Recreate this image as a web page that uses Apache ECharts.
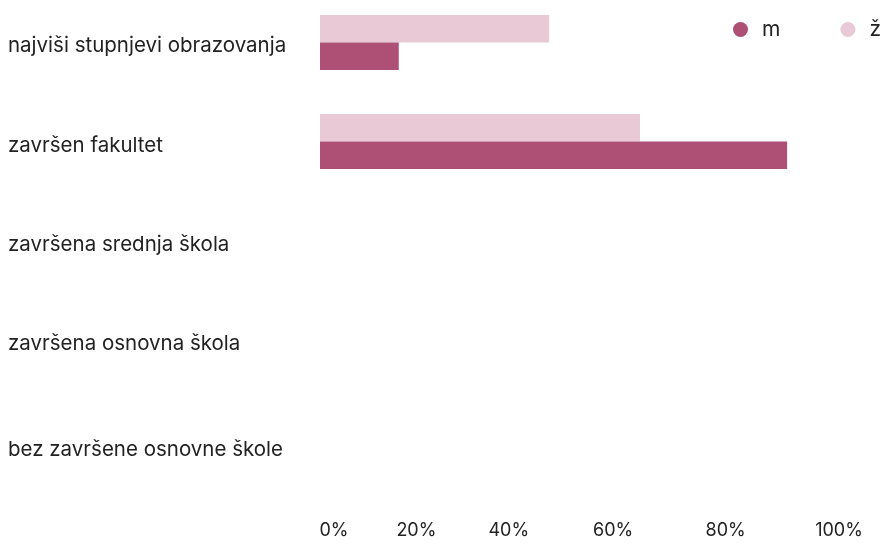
<!DOCTYPE html>
<html>
<head>
<meta charset="utf-8">
<style>
  html, body { margin: 0; padding: 0; background: #fff; }
  #chart { width: 884px; height: 544px; }
</style>
<script src="https://cdn.jsdelivr.net/npm/echarts@6/dist/echarts.min.js"></script>
</head>
<body>
<div id="chart"></div>
<script>
// Education level shares by sex (percent of each group)
const categories = [
  'najviši stupnjevi obrazovanja',
  'završen fakultet',
  'završena srednja škola',
  'završena osnovna škola',
  'bez završene osnovne škole'
];
const seriesNames = ['m', 'ž'];
const valuesM = [14.4, 85.4, 0, 0, 0];
const valuesZ = [41.9, 58.5, 0, 0, 0];
const tickValues = [0, 20, 40, 60, 80, 100];

const colorM = '#ae5076';
const colorZ = '#e8c9d5';
const textColor = '#222222';
const fontFamily = 'Inter, "Noto Sans", sans-serif';

// horizontal nudges for the percentage labels under the plot
const xLabelShift = [14, -13, -30, -35, -32, -28];
const xRich = {};
xLabelShift.forEach((s, i) => {
  xRich['t' + i] = {
    fontSize: 18, fontFamily, color: textColor,
    padding: s >= 0 ? [0, 0, 0, 2 * s] : [0, -2 * s, 0, 0]
  };
});

// vertical nudges for the category labels on the left
const yLabelDrop = [7, 9, 9, 9, 22];
const yRich = {};
yLabelDrop.forEach((d, i) => {
  yRich['c' + i] = {
    fontSize: 20.5, fontFamily, color: textColor,
    padding: [d, 0, 0, 0]
  };
});

const chart = echarts.init(document.getElementById('chart'), null, { renderer: 'canvas' });

chart.setOption({
  animation: false,
  backgroundColor: '#ffffff',
  textStyle: { fontFamily },
  legend: {
    data: seriesNames,
    right: -2,
    top: 14,
    icon: 'circle',
    itemWidth: 15,
    itemHeight: 15,
    itemGap: 60,
    textStyle: { fontSize: 21, color: textColor, fontFamily, padding: [0, 0, 0, 9] }
  },
  grid: { left: 320, right: 17, top: 42.5, bottom: 105.5, containLabel: false },
  xAxis: {
    type: 'value',
    min: 0,
    max: 100,
    interval: 20,
    axisLine: { show: false },
    axisTick: { show: false },
    splitLine: { show: false },
    axisLabel: {
      margin: 83.5,
      formatter: (v) => {
        const i = tickValues.indexOf(v);
        return '{t' + i + '|' + v + '%}';
      },
      rich: xRich
    }
  },
  yAxis: {
    type: 'category',
    inverse: true,
    boundaryGap: false,
    data: categories,
    axisLine: { show: false },
    axisTick: { show: false },
    splitLine: { show: false },
    axisLabel: {
      align: 'left',
      margin: 312,
      formatter: (v, i) => '{c' + i + '|' + v + '}',
      rich: yRich
    }
  },
  series: [
    {
      name: 'ž',
      type: 'bar',
      data: valuesZ,
      barWidth: 27.5,
      barGap: '0%',
      itemStyle: { color: colorZ }
    },
    {
      name: 'm',
      type: 'bar',
      data: valuesM,
      barWidth: 27.5,
      barGap: '0%',
      itemStyle: { color: colorM }
    }
  ]
});
</script>
</body>
</html>
